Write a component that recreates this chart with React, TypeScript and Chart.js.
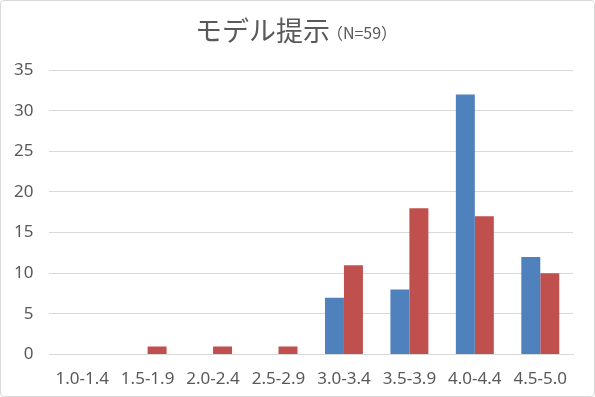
import React, { useEffect, useRef } from "react";
import { Chart, registerables } from "chart.js";

Chart.register(...registerables);

const categories = ["1.0-1.4", "1.5-1.9", "2.0-2.4", "2.5-2.9", "3.0-3.4", "3.5-3.9", "4.0-4.4", "4.5-5.0"];
const seriesBlue = [0, 0, 0, 0, 7, 8, 32, 12];
const seriesRed = [0, 1, 1, 1, 11, 18, 17, 10];
const titleMain = "モデル提示";
const titleSub = "（N=59）";

const FONT = "'Noto Sans', 'Noto Sans CJK JP', sans-serif";

const titlePlugin = {
  id: "mixedTitle",
  afterDraw(chart: any) {
    const ctx = chart.ctx;
    ctx.save();
    ctx.fillStyle = "#595959";
    ctx.textBaseline = "middle";
    ctx.font = `27px 'Noto Sans CJK JP', ${FONT}`;
    const w1 = ctx.measureText(titleMain).width;
    ctx.font = `16px 'Noto Sans CJK JP', ${FONT}`;
    const w2 = ctx.measureText(titleSub).width;
    const x0 = chart.width / 2 - (w1 + w2) / 2;
    const y = 30;
    ctx.font = `27px 'Noto Sans CJK JP', ${FONT}`;
    ctx.textAlign = "left";
    ctx.fillText(titleMain, x0, y);
    ctx.font = `16px 'Noto Sans CJK JP', ${FONT}`;
    ctx.fillText(titleSub, x0 + w1 - 3, y + 2);
    ctx.restore();
  },
};

export default function App() {
  const ref = useRef<HTMLCanvasElement>(null);
  useEffect(() => {
    document.body.style.margin = "0";
    const chart = new Chart(ref.current as HTMLCanvasElement, {
      type: "bar",
      data: {
        labels: categories,
        datasets: [
          { data: seriesBlue, backgroundColor: "#4F81BD", categoryPercentage: 0.58, barPercentage: 1 },
          { data: seriesRed, backgroundColor: "#C0504D", categoryPercentage: 0.58, barPercentage: 1 },
        ],
      },
      options: {
        animation: false,
        responsive: false,
        layout: { padding: { top: 69, left: -3, right: 21, bottom: -7 } },
        plugins: { legend: { display: false }, tooltip: { enabled: false }, title: { display: false } },
        scales: {
          x: {
            grid: { display: false, drawTicks: false },
            border: { color: "#D9D9D9", width: 1 },
            ticks: { color: "#595959", font: { family: FONT, size: 17 }, padding: 14, maxRotation: 0 },
          },
          y: {
            min: 0,
            max: 35,
            grid: { color: "#D9D9D9", drawTicks: false },
            border: { display: false },
            ticks: { stepSize: 5, color: "#595959", font: { family: FONT, size: 17 }, padding: 16 },
          },
        },
      },
      plugins: [titlePlugin],
    });
    return () => chart.destroy();
  }, []);
  return (
    <div
      style={{
        position: "absolute",
        left: 0,
        top: 0,
        width: 595,
        height: 397,
        boxSizing: "border-box",
        border: "1px solid #D9D9D9",
        borderRadius: 4,
        background: "#fff",
      }}
    >
      <canvas ref={ref} width={593} height={395} style={{ display: "block" }} />
    </div>
  );
}
